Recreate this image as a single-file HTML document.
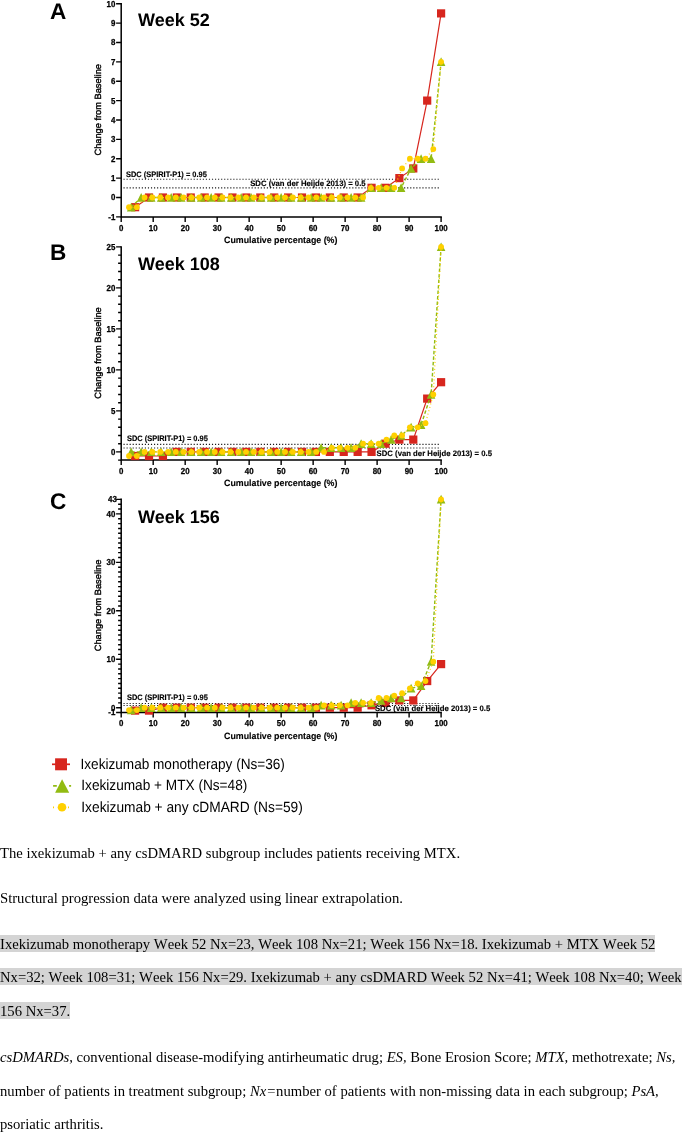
<!DOCTYPE html>
<html><head><meta charset="utf-8"><title>Figure</title><style>
html,body{margin:0;padding:0;background:#fff;width:685px;height:1132px;overflow:hidden}
body{width:685px;height:1132px;position:relative;overflow:hidden;font-family:"Liberation Serif",serif;color:#000}
svg{position:absolute;left:0;top:0}
.txt,.cap{filter:grayscale(1)}
.cap{position:absolute;left:0;top:830px;width:685px;height:302px;overflow:hidden}
.l{position:absolute;left:0;white-space:nowrap;font-size:14.67px;line-height:17px;height:17px;font-kerning:none;font-variant-ligatures:none}
.h{background:#d4d4d4;padding-top:1px}
i{font-style:italic}
</style></head><body>
<svg width="685" height="830" viewBox="0 0 685 830" class="gfx">
<path d="M121.2 2.95V216.88H441.85" fill="none" stroke="#000" stroke-width="1.5"/>
<path d="M121.2 216.88h-5.1M121.2 197.5h-5.1M121.2 178.12h-5.1M121.2 158.74h-5.1M121.2 139.36h-5.1M121.2 119.98h-5.1M121.2 100.6h-5.1M121.2 81.22h-5.1M121.2 61.84h-5.1M121.2 42.46h-5.1M121.2 23.08h-5.1M121.2 3.7h-5.1M121.2 216.88v5M153.19 216.88v5M185.18 216.88v5M217.17 216.88v5M249.16 216.88v5M281.15 216.88v5M313.14 216.88v5M345.13 216.88v5M377.12 216.88v5M409.11 216.88v5M441.1 216.88v5" fill="none" stroke="#000" stroke-width="1.4"/>
<line x1="123.5" x2="439" y1="179.3" y2="179.3" stroke="#1a1a1a" stroke-width="1.1" stroke-dasharray="1.15 1.9"/>
<line x1="123.5" x2="439" y1="187.9" y2="187.9" stroke="#1a1a1a" stroke-width="1.1" stroke-dasharray="1.15 1.9"/>
<polyline points="135.11,207.19 149.02,197.5 162.93,197.5 176.83,197.5 190.74,197.5 204.65,197.5 218.56,197.5 232.47,197.5 246.38,197.5 260.29,197.5 274.2,197.5 288.1,197.5 302.01,197.5 315.92,197.5 329.83,197.5 343.74,197.5 357.65,197.5 371.56,187.81 385.47,187.81 399.37,178.12 413.28,168.43 427.19,100.6 441.1,13.39" fill="none" stroke="#d7261e" stroke-width="1.2"/>
<g fill="#d7261e"><rect x="131.01" y="203.09" width="8.2" height="8.2"/><rect x="144.92" y="193.4" width="8.2" height="8.2"/><rect x="158.83" y="193.4" width="8.2" height="8.2"/><rect x="172.73" y="193.4" width="8.2" height="8.2"/><rect x="186.64" y="193.4" width="8.2" height="8.2"/><rect x="200.55" y="193.4" width="8.2" height="8.2"/><rect x="214.46" y="193.4" width="8.2" height="8.2"/><rect x="228.37" y="193.4" width="8.2" height="8.2"/><rect x="242.28" y="193.4" width="8.2" height="8.2"/><rect x="256.19" y="193.4" width="8.2" height="8.2"/><rect x="270.1" y="193.4" width="8.2" height="8.2"/><rect x="284" y="193.4" width="8.2" height="8.2"/><rect x="297.91" y="193.4" width="8.2" height="8.2"/><rect x="311.82" y="193.4" width="8.2" height="8.2"/><rect x="325.73" y="193.4" width="8.2" height="8.2"/><rect x="339.64" y="193.4" width="8.2" height="8.2"/><rect x="353.55" y="193.4" width="8.2" height="8.2"/><rect x="367.46" y="183.71" width="8.2" height="8.2"/><rect x="381.37" y="183.71" width="8.2" height="8.2"/><rect x="395.27" y="174.02" width="8.2" height="8.2"/><rect x="409.18" y="164.33" width="8.2" height="8.2"/><rect x="423.09" y="96.5" width="8.2" height="8.2"/><rect x="437" y="9.29" width="8.2" height="8.2"/></g>
<polyline points="131.2,207.19 141.19,197.5 151.19,197.5 161.19,197.5 171.18,197.5 181.18,197.5 191.18,197.5 201.18,197.5 211.17,197.5 221.17,197.5 231.17,197.5 241.16,197.5 251.16,197.5 261.16,197.5 271.15,197.5 281.15,197.5 291.15,197.5 301.14,197.5 311.14,197.5 321.14,197.5 331.13,197.5 341.13,197.5 351.13,197.5 361.13,197.5 371.12,187.81 381.12,187.81 391.12,187.81 401.11,187.81 411.11,168.43 421.11,158.74 431.1,158.74 441.1,61.84" fill="none" stroke="#92bb12" stroke-width="1.4" stroke-dasharray="3.5 2"/>
<g fill="#92bb12"><path d="M131.2 202.69L135.5 211.39H126.9Z"/><path d="M141.19 193L145.49 201.7H136.89Z"/><path d="M151.19 193L155.49 201.7H146.89Z"/><path d="M161.19 193L165.49 201.7H156.89Z"/><path d="M171.18 193L175.48 201.7H166.88Z"/><path d="M181.18 193L185.48 201.7H176.88Z"/><path d="M191.18 193L195.48 201.7H186.88Z"/><path d="M201.18 193L205.48 201.7H196.88Z"/><path d="M211.17 193L215.47 201.7H206.87Z"/><path d="M221.17 193L225.47 201.7H216.87Z"/><path d="M231.17 193L235.47 201.7H226.87Z"/><path d="M241.16 193L245.46 201.7H236.86Z"/><path d="M251.16 193L255.46 201.7H246.86Z"/><path d="M261.16 193L265.46 201.7H256.86Z"/><path d="M271.15 193L275.45 201.7H266.85Z"/><path d="M281.15 193L285.45 201.7H276.85Z"/><path d="M291.15 193L295.45 201.7H286.85Z"/><path d="M301.14 193L305.44 201.7H296.84Z"/><path d="M311.14 193L315.44 201.7H306.84Z"/><path d="M321.14 193L325.44 201.7H316.84Z"/><path d="M331.13 193L335.43 201.7H326.83Z"/><path d="M341.13 193L345.43 201.7H336.83Z"/><path d="M351.13 193L355.43 201.7H346.83Z"/><path d="M361.13 193L365.43 201.7H356.83Z"/><path d="M371.12 183.31L375.42 192.01H366.82Z"/><path d="M381.12 183.31L385.42 192.01H376.82Z"/><path d="M391.12 183.31L395.42 192.01H386.82Z"/><path d="M401.11 183.31L405.41 192.01H396.81Z"/><path d="M411.11 163.93L415.41 172.63H406.81Z"/><path d="M421.11 154.24L425.41 162.94H416.81Z"/><path d="M431.1 154.24L435.4 162.94H426.8Z"/><path d="M441.1 57.34L445.4 66.04H436.8Z"/></g>
<polyline points="129,207.19 136.8,207.19 144.61,197.5 152.41,197.5 160.21,197.5 168.01,197.5 175.82,197.5 183.62,197.5 191.42,197.5 199.22,197.5 207.03,197.5 214.83,197.5 222.63,197.5 230.43,197.5 238.24,197.5 246.04,197.5 253.84,197.5 261.64,197.5 269.45,197.5 277.25,197.5 285.05,197.5 292.85,197.5 300.66,197.5 308.46,197.5 316.26,197.5 324.06,197.5 331.87,197.5 339.67,197.5 347.47,197.5 355.27,197.5 363.08,197.5 370.88,187.81 378.68,187.81 386.48,187.81 394.29,187.81 402.09,168.43 409.89,158.74 417.69,158.74 425.5,158.74 433.3,149.05 441.1,61.84" fill="none" stroke="#ffd000" stroke-width="1.2" stroke-dasharray="1 2.5"/>
<g fill="#ffd000"><circle cx="129" cy="207.19" r="2.9"/><circle cx="136.8" cy="207.19" r="2.9"/><circle cx="144.61" cy="197.5" r="2.9"/><circle cx="152.41" cy="197.5" r="2.9"/><circle cx="160.21" cy="197.5" r="2.9"/><circle cx="168.01" cy="197.5" r="2.9"/><circle cx="175.82" cy="197.5" r="2.9"/><circle cx="183.62" cy="197.5" r="2.9"/><circle cx="191.42" cy="197.5" r="2.9"/><circle cx="199.22" cy="197.5" r="2.9"/><circle cx="207.03" cy="197.5" r="2.9"/><circle cx="214.83" cy="197.5" r="2.9"/><circle cx="222.63" cy="197.5" r="2.9"/><circle cx="230.43" cy="197.5" r="2.9"/><circle cx="238.24" cy="197.5" r="2.9"/><circle cx="246.04" cy="197.5" r="2.9"/><circle cx="253.84" cy="197.5" r="2.9"/><circle cx="261.64" cy="197.5" r="2.9"/><circle cx="269.45" cy="197.5" r="2.9"/><circle cx="277.25" cy="197.5" r="2.9"/><circle cx="285.05" cy="197.5" r="2.9"/><circle cx="292.85" cy="197.5" r="2.9"/><circle cx="300.66" cy="197.5" r="2.9"/><circle cx="308.46" cy="197.5" r="2.9"/><circle cx="316.26" cy="197.5" r="2.9"/><circle cx="324.06" cy="197.5" r="2.9"/><circle cx="331.87" cy="197.5" r="2.9"/><circle cx="339.67" cy="197.5" r="2.9"/><circle cx="347.47" cy="197.5" r="2.9"/><circle cx="355.27" cy="197.5" r="2.9"/><circle cx="363.08" cy="197.5" r="2.9"/><circle cx="370.88" cy="187.81" r="2.9"/><circle cx="378.68" cy="187.81" r="2.9"/><circle cx="386.48" cy="187.81" r="2.9"/><circle cx="394.29" cy="187.81" r="2.9"/><circle cx="402.09" cy="168.43" r="2.9"/><circle cx="409.89" cy="158.74" r="2.9"/><circle cx="417.69" cy="158.74" r="2.9"/><circle cx="425.5" cy="158.74" r="2.9"/><circle cx="433.3" cy="149.05" r="2.9"/><circle cx="441.1" cy="61.84" r="2.9"/></g>
<path d="M121.2 246.15V460.1H441.85" fill="none" stroke="#000" stroke-width="1.5"/>
<path d="M121.2 460.1h-3.1M121.2 443.7h-3.1M121.2 435.5h-3.1M121.2 427.3h-3.1M121.2 419.1h-3.1M121.2 402.7h-3.1M121.2 394.5h-3.1M121.2 386.3h-3.1M121.2 378.1h-3.1M121.2 361.7h-3.1M121.2 353.5h-3.1M121.2 345.3h-3.1M121.2 337.1h-3.1M121.2 320.7h-3.1M121.2 312.5h-3.1M121.2 304.3h-3.1M121.2 296.1h-3.1M121.2 279.7h-3.1M121.2 271.5h-3.1M121.2 263.3h-3.1M121.2 255.1h-3.1M121.2 451.9h-5.1M121.2 410.9h-5.1M121.2 369.9h-5.1M121.2 328.9h-5.1M121.2 287.9h-5.1M121.2 246.9h-5.1M121.2 460.1v5M153.19 460.1v5M185.18 460.1v5M217.17 460.1v5M249.16 460.1v5M281.15 460.1v5M313.14 460.1v5M345.13 460.1v5M377.12 460.1v5M409.11 460.1v5M441.1 460.1v5" fill="none" stroke="#000" stroke-width="1.4"/>
<line x1="123.5" x2="439" y1="444.4" y2="444.4" stroke="#1a1a1a" stroke-width="1.1" stroke-dasharray="1.15 1.9"/>
<line x1="123.5" x2="439" y1="448" y2="448" stroke="#1a1a1a" stroke-width="1.1" stroke-dasharray="1.15 1.9"/>
<polyline points="135.11,456 149.02,456 162.93,456 176.83,451.9 190.74,451.9 204.65,451.9 218.56,451.9 232.47,451.9 246.38,451.9 260.29,451.9 274.2,451.9 288.1,451.9 302.01,451.9 315.92,451.9 329.83,451.9 343.74,451.9 357.65,451.9 371.56,451.9 385.47,443.7 399.37,439.6 413.28,439.6 427.19,398.6 441.1,382.2" fill="none" stroke="#d7261e" stroke-width="1.2"/>
<g fill="#d7261e"><rect x="131.01" y="451.9" width="8.2" height="8.2"/><rect x="144.92" y="451.9" width="8.2" height="8.2"/><rect x="158.83" y="451.9" width="8.2" height="8.2"/><rect x="172.73" y="447.8" width="8.2" height="8.2"/><rect x="186.64" y="447.8" width="8.2" height="8.2"/><rect x="200.55" y="447.8" width="8.2" height="8.2"/><rect x="214.46" y="447.8" width="8.2" height="8.2"/><rect x="228.37" y="447.8" width="8.2" height="8.2"/><rect x="242.28" y="447.8" width="8.2" height="8.2"/><rect x="256.19" y="447.8" width="8.2" height="8.2"/><rect x="270.1" y="447.8" width="8.2" height="8.2"/><rect x="284" y="447.8" width="8.2" height="8.2"/><rect x="297.91" y="447.8" width="8.2" height="8.2"/><rect x="311.82" y="447.8" width="8.2" height="8.2"/><rect x="325.73" y="447.8" width="8.2" height="8.2"/><rect x="339.64" y="447.8" width="8.2" height="8.2"/><rect x="353.55" y="447.8" width="8.2" height="8.2"/><rect x="367.46" y="447.8" width="8.2" height="8.2"/><rect x="381.37" y="439.6" width="8.2" height="8.2"/><rect x="395.27" y="435.5" width="8.2" height="8.2"/><rect x="409.18" y="435.5" width="8.2" height="8.2"/><rect x="423.09" y="394.5" width="8.2" height="8.2"/><rect x="437" y="378.1" width="8.2" height="8.2"/></g>
<polyline points="131.2,451.9 141.19,451.9 151.19,451.9 161.19,451.9 171.18,451.9 181.18,451.9 191.18,451.9 201.18,451.9 211.17,451.9 221.17,451.9 231.17,451.9 241.16,451.9 251.16,451.9 261.16,451.9 271.15,451.9 281.15,451.9 291.15,451.9 301.14,451.9 311.14,451.9 321.14,447.8 331.13,447.8 341.13,447.8 351.13,447.8 361.13,443.7 371.12,443.7 381.12,443.7 391.12,439.6 401.11,435.5 411.11,427.3 421.11,424.84 431.1,394.5 441.1,246.9" fill="none" stroke="#92bb12" stroke-width="1.4" stroke-dasharray="3.5 2"/>
<g fill="#92bb12"><path d="M131.2 447.4L135.5 456.1H126.9Z"/><path d="M141.19 447.4L145.49 456.1H136.89Z"/><path d="M151.19 447.4L155.49 456.1H146.89Z"/><path d="M161.19 447.4L165.49 456.1H156.89Z"/><path d="M171.18 447.4L175.48 456.1H166.88Z"/><path d="M181.18 447.4L185.48 456.1H176.88Z"/><path d="M191.18 447.4L195.48 456.1H186.88Z"/><path d="M201.18 447.4L205.48 456.1H196.88Z"/><path d="M211.17 447.4L215.47 456.1H206.87Z"/><path d="M221.17 447.4L225.47 456.1H216.87Z"/><path d="M231.17 447.4L235.47 456.1H226.87Z"/><path d="M241.16 447.4L245.46 456.1H236.86Z"/><path d="M251.16 447.4L255.46 456.1H246.86Z"/><path d="M261.16 447.4L265.46 456.1H256.86Z"/><path d="M271.15 447.4L275.45 456.1H266.85Z"/><path d="M281.15 447.4L285.45 456.1H276.85Z"/><path d="M291.15 447.4L295.45 456.1H286.85Z"/><path d="M301.14 447.4L305.44 456.1H296.84Z"/><path d="M311.14 447.4L315.44 456.1H306.84Z"/><path d="M321.14 443.3L325.44 452H316.84Z"/><path d="M331.13 443.3L335.43 452H326.83Z"/><path d="M341.13 443.3L345.43 452H336.83Z"/><path d="M351.13 443.3L355.43 452H346.83Z"/><path d="M361.13 439.2L365.43 447.9H356.83Z"/><path d="M371.12 439.2L375.42 447.9H366.82Z"/><path d="M381.12 439.2L385.42 447.9H376.82Z"/><path d="M391.12 435.1L395.42 443.8H386.82Z"/><path d="M401.11 431L405.41 439.7H396.81Z"/><path d="M411.11 422.8L415.41 431.5H406.81Z"/><path d="M421.11 420.34L425.41 429.04H416.81Z"/><path d="M431.1 390L435.4 398.7H426.8Z"/><path d="M441.1 242.4L445.4 251.1H436.8Z"/></g>
<polyline points="129,456 136.8,456 144.61,451.9 152.41,451.9 160.21,451.9 168.01,451.9 175.82,451.9 183.62,451.9 191.42,451.9 199.22,451.9 207.03,451.9 214.83,451.9 222.63,451.9 230.43,451.9 238.24,451.9 246.04,451.9 253.84,451.9 261.64,451.9 269.45,451.9 277.25,451.9 285.05,451.9 292.85,451.9 300.66,451.9 308.46,451.9 316.26,451.9 324.06,451.9 331.87,447.8 339.67,447.8 347.47,447.8 355.27,447.8 363.08,443.7 370.88,443.7 378.68,443.7 386.48,439.6 394.29,435.5 402.09,435.5 409.89,427.3 417.69,427.3 425.5,423.2 433.3,394.5 441.1,246.9" fill="none" stroke="#ffd000" stroke-width="1.2" stroke-dasharray="1 2.5"/>
<g fill="#ffd000"><circle cx="129" cy="456" r="2.9"/><circle cx="136.8" cy="456" r="2.9"/><circle cx="144.61" cy="451.9" r="2.9"/><circle cx="152.41" cy="451.9" r="2.9"/><circle cx="160.21" cy="451.9" r="2.9"/><circle cx="168.01" cy="451.9" r="2.9"/><circle cx="175.82" cy="451.9" r="2.9"/><circle cx="183.62" cy="451.9" r="2.9"/><circle cx="191.42" cy="451.9" r="2.9"/><circle cx="199.22" cy="451.9" r="2.9"/><circle cx="207.03" cy="451.9" r="2.9"/><circle cx="214.83" cy="451.9" r="2.9"/><circle cx="222.63" cy="451.9" r="2.9"/><circle cx="230.43" cy="451.9" r="2.9"/><circle cx="238.24" cy="451.9" r="2.9"/><circle cx="246.04" cy="451.9" r="2.9"/><circle cx="253.84" cy="451.9" r="2.9"/><circle cx="261.64" cy="451.9" r="2.9"/><circle cx="269.45" cy="451.9" r="2.9"/><circle cx="277.25" cy="451.9" r="2.9"/><circle cx="285.05" cy="451.9" r="2.9"/><circle cx="292.85" cy="451.9" r="2.9"/><circle cx="300.66" cy="451.9" r="2.9"/><circle cx="308.46" cy="451.9" r="2.9"/><circle cx="316.26" cy="451.9" r="2.9"/><circle cx="324.06" cy="451.9" r="2.9"/><circle cx="331.87" cy="447.8" r="2.9"/><circle cx="339.67" cy="447.8" r="2.9"/><circle cx="347.47" cy="447.8" r="2.9"/><circle cx="355.27" cy="447.8" r="2.9"/><circle cx="363.08" cy="443.7" r="2.9"/><circle cx="370.88" cy="443.7" r="2.9"/><circle cx="378.68" cy="443.7" r="2.9"/><circle cx="386.48" cy="439.6" r="2.9"/><circle cx="394.29" cy="435.5" r="2.9"/><circle cx="402.09" cy="435.5" r="2.9"/><circle cx="409.89" cy="427.3" r="2.9"/><circle cx="417.69" cy="427.3" r="2.9"/><circle cx="425.5" cy="423.2" r="2.9"/><circle cx="433.3" cy="394.5" r="2.9"/><circle cx="441.1" cy="246.9" r="2.9"/></g>
<path d="M121.2 498.62V712.55H441.85" fill="none" stroke="#000" stroke-width="1.5"/>
<path d="M121.2 702.86h-3.1M121.2 698.01h-3.1M121.2 693.17h-3.1M121.2 688.32h-3.1M121.2 683.48h-3.1M121.2 678.63h-3.1M121.2 673.79h-3.1M121.2 668.94h-3.1M121.2 664.1h-3.1M121.2 654.41h-3.1M121.2 649.56h-3.1M121.2 644.72h-3.1M121.2 639.87h-3.1M121.2 635.03h-3.1M121.2 630.18h-3.1M121.2 625.34h-3.1M121.2 620.49h-3.1M121.2 615.65h-3.1M121.2 605.96h-3.1M121.2 601.11h-3.1M121.2 596.27h-3.1M121.2 591.42h-3.1M121.2 586.58h-3.1M121.2 581.73h-3.1M121.2 576.88h-3.1M121.2 572.04h-3.1M121.2 567.2h-3.1M121.2 557.51h-3.1M121.2 552.66h-3.1M121.2 547.82h-3.1M121.2 542.97h-3.1M121.2 538.12h-3.1M121.2 533.28h-3.1M121.2 528.44h-3.1M121.2 523.59h-3.1M121.2 518.75h-3.1M121.2 509.06h-3.1M121.2 504.21h-3.1M121.2 712.55h-5.1M121.2 707.7h-5.1M121.2 659.25h-5.1M121.2 610.8h-5.1M121.2 562.35h-5.1M121.2 513.9h-5.1M121.2 499.37h-5.1M121.2 712.55v5M153.19 712.55v5M185.18 712.55v5M217.17 712.55v5M249.16 712.55v5M281.15 712.55v5M313.14 712.55v5M345.13 712.55v5M377.12 712.55v5M409.11 712.55v5M441.1 712.55v5" fill="none" stroke="#000" stroke-width="1.4"/>
<line x1="123.5" x2="439" y1="703.5" y2="703.5" stroke="#1a1a1a" stroke-width="1.1" stroke-dasharray="1.15 1.9"/>
<line x1="123.5" x2="439" y1="705.5" y2="705.5" stroke="#1a1a1a" stroke-width="1.1" stroke-dasharray="1.15 1.9"/>
<polyline points="135.11,710.61 149.02,710.61 162.93,707.7 176.83,707.7 190.74,707.7 204.65,707.7 218.56,707.7 232.47,707.7 246.38,707.7 260.29,707.7 274.2,707.7 288.1,707.7 302.01,707.7 315.92,707.7 329.83,707.7 343.74,707.7 357.65,707.7 371.56,705.28 385.47,702.86 399.37,700.43 413.28,700.43 427.19,681.05 441.1,664.1" fill="none" stroke="#d7261e" stroke-width="1.2"/>
<g fill="#d7261e"><rect x="131.01" y="706.51" width="8.2" height="8.2"/><rect x="144.92" y="706.51" width="8.2" height="8.2"/><rect x="158.83" y="703.6" width="8.2" height="8.2"/><rect x="172.73" y="703.6" width="8.2" height="8.2"/><rect x="186.64" y="703.6" width="8.2" height="8.2"/><rect x="200.55" y="703.6" width="8.2" height="8.2"/><rect x="214.46" y="703.6" width="8.2" height="8.2"/><rect x="228.37" y="703.6" width="8.2" height="8.2"/><rect x="242.28" y="703.6" width="8.2" height="8.2"/><rect x="256.19" y="703.6" width="8.2" height="8.2"/><rect x="270.1" y="703.6" width="8.2" height="8.2"/><rect x="284" y="703.6" width="8.2" height="8.2"/><rect x="297.91" y="703.6" width="8.2" height="8.2"/><rect x="311.82" y="703.6" width="8.2" height="8.2"/><rect x="325.73" y="703.6" width="8.2" height="8.2"/><rect x="339.64" y="703.6" width="8.2" height="8.2"/><rect x="353.55" y="703.6" width="8.2" height="8.2"/><rect x="367.46" y="701.18" width="8.2" height="8.2"/><rect x="381.37" y="698.75" width="8.2" height="8.2"/><rect x="395.27" y="696.33" width="8.2" height="8.2"/><rect x="409.18" y="696.33" width="8.2" height="8.2"/><rect x="423.09" y="676.95" width="8.2" height="8.2"/><rect x="437" y="660" width="8.2" height="8.2"/></g>
<polyline points="131.2,710.12 141.19,707.7 151.19,707.7 161.19,707.7 171.18,707.7 181.18,707.7 191.18,707.7 201.18,707.7 211.17,707.7 221.17,707.7 231.17,707.7 241.16,707.7 251.16,707.7 261.16,707.7 271.15,707.7 281.15,707.7 291.15,707.7 301.14,707.7 311.14,707.7 321.14,705.28 331.13,705.28 341.13,705.28 351.13,702.86 361.13,702.86 371.12,702.86 381.12,700.43 391.12,698.01 401.11,698.01 411.11,688.32 421.11,685.9 431.1,661.67 441.1,499.37" fill="none" stroke="#92bb12" stroke-width="1.4" stroke-dasharray="3.5 2"/>
<g fill="#92bb12"><path d="M131.2 705.62L135.5 714.32H126.9Z"/><path d="M141.19 703.2L145.49 711.9H136.89Z"/><path d="M151.19 703.2L155.49 711.9H146.89Z"/><path d="M161.19 703.2L165.49 711.9H156.89Z"/><path d="M171.18 703.2L175.48 711.9H166.88Z"/><path d="M181.18 703.2L185.48 711.9H176.88Z"/><path d="M191.18 703.2L195.48 711.9H186.88Z"/><path d="M201.18 703.2L205.48 711.9H196.88Z"/><path d="M211.17 703.2L215.47 711.9H206.87Z"/><path d="M221.17 703.2L225.47 711.9H216.87Z"/><path d="M231.17 703.2L235.47 711.9H226.87Z"/><path d="M241.16 703.2L245.46 711.9H236.86Z"/><path d="M251.16 703.2L255.46 711.9H246.86Z"/><path d="M261.16 703.2L265.46 711.9H256.86Z"/><path d="M271.15 703.2L275.45 711.9H266.85Z"/><path d="M281.15 703.2L285.45 711.9H276.85Z"/><path d="M291.15 703.2L295.45 711.9H286.85Z"/><path d="M301.14 703.2L305.44 711.9H296.84Z"/><path d="M311.14 703.2L315.44 711.9H306.84Z"/><path d="M321.14 700.78L325.44 709.48H316.84Z"/><path d="M331.13 700.78L335.43 709.48H326.83Z"/><path d="M341.13 700.78L345.43 709.48H336.83Z"/><path d="M351.13 698.36L355.43 707.06H346.83Z"/><path d="M361.13 698.36L365.43 707.06H356.83Z"/><path d="M371.12 698.36L375.42 707.06H366.82Z"/><path d="M381.12 695.93L385.42 704.63H376.82Z"/><path d="M391.12 693.51L395.42 702.21H386.82Z"/><path d="M401.11 693.51L405.41 702.21H396.81Z"/><path d="M411.11 683.82L415.41 692.52H406.81Z"/><path d="M421.11 681.4L425.41 690.1H416.81Z"/><path d="M431.1 657.17L435.4 665.87H426.8Z"/><path d="M441.1 494.87L445.4 503.57H436.8Z"/></g>
<polyline points="129,710.12 136.8,710.12 144.61,707.7 152.41,707.7 160.21,707.7 168.01,707.7 175.82,707.7 183.62,707.7 191.42,707.7 199.22,707.7 207.03,707.7 214.83,707.7 222.63,707.7 230.43,707.7 238.24,707.7 246.04,707.7 253.84,707.7 261.64,707.7 269.45,707.7 277.25,707.7 285.05,707.7 292.85,707.7 300.66,707.7 308.46,707.7 316.26,707.7 324.06,705.28 331.87,705.28 339.67,705.28 347.47,705.28 355.27,702.86 363.08,702.86 370.88,702.86 378.68,698.01 386.48,698.01 394.29,695.59 402.09,693.17 409.89,688.32 417.69,683.48 425.5,681.05 433.3,661.67 441.1,499.37" fill="none" stroke="#ffd000" stroke-width="1.2" stroke-dasharray="1 2.5"/>
<g fill="#ffd000"><circle cx="129" cy="710.12" r="2.9"/><circle cx="136.8" cy="710.12" r="2.9"/><circle cx="144.61" cy="707.7" r="2.9"/><circle cx="152.41" cy="707.7" r="2.9"/><circle cx="160.21" cy="707.7" r="2.9"/><circle cx="168.01" cy="707.7" r="2.9"/><circle cx="175.82" cy="707.7" r="2.9"/><circle cx="183.62" cy="707.7" r="2.9"/><circle cx="191.42" cy="707.7" r="2.9"/><circle cx="199.22" cy="707.7" r="2.9"/><circle cx="207.03" cy="707.7" r="2.9"/><circle cx="214.83" cy="707.7" r="2.9"/><circle cx="222.63" cy="707.7" r="2.9"/><circle cx="230.43" cy="707.7" r="2.9"/><circle cx="238.24" cy="707.7" r="2.9"/><circle cx="246.04" cy="707.7" r="2.9"/><circle cx="253.84" cy="707.7" r="2.9"/><circle cx="261.64" cy="707.7" r="2.9"/><circle cx="269.45" cy="707.7" r="2.9"/><circle cx="277.25" cy="707.7" r="2.9"/><circle cx="285.05" cy="707.7" r="2.9"/><circle cx="292.85" cy="707.7" r="2.9"/><circle cx="300.66" cy="707.7" r="2.9"/><circle cx="308.46" cy="707.7" r="2.9"/><circle cx="316.26" cy="707.7" r="2.9"/><circle cx="324.06" cy="705.28" r="2.9"/><circle cx="331.87" cy="705.28" r="2.9"/><circle cx="339.67" cy="705.28" r="2.9"/><circle cx="347.47" cy="705.28" r="2.9"/><circle cx="355.27" cy="702.86" r="2.9"/><circle cx="363.08" cy="702.86" r="2.9"/><circle cx="370.88" cy="702.86" r="2.9"/><circle cx="378.68" cy="698.01" r="2.9"/><circle cx="386.48" cy="698.01" r="2.9"/><circle cx="394.29" cy="695.59" r="2.9"/><circle cx="402.09" cy="693.17" r="2.9"/><circle cx="409.89" cy="688.32" r="2.9"/><circle cx="417.69" cy="683.48" r="2.9"/><circle cx="425.5" cy="681.05" r="2.9"/><circle cx="433.3" cy="661.67" r="2.9"/><circle cx="441.1" cy="499.37" r="2.9"/></g>
<line x1="52" x2="70" y1="764.3" y2="764.3" stroke="#d7261e" stroke-width="1.7"/>
<rect x="55.1" y="758.3" width="11.9" height="12" fill="#d7261e"/>
<path d="M53.1 785.9h3.7M69.1 785.9h2" stroke="#92bb12" stroke-width="1.8" fill="none"/>
<path d="M62.1 779.3L69.2 792.7H55.1Z" fill="#92bb12"/>
<path d="M53 807.4h1M68 807.4h1" stroke="#ffd000" stroke-width="1.6" fill="none"/>
<circle cx="62" cy="807.3" r="4.3" fill="#ffd000"/>
</svg>
<svg width="685" height="830" viewBox="0 0 685 830" class="txt" text-rendering="geometricPrecision" font-family="'Liberation Sans', sans-serif" fill="#000">
 <text x="50.1" y="18.5" font-size="22.6" font-weight="bold">A</text>
<text x="138" y="25.9" font-size="18" font-weight="bold" textLength="71.7" lengthAdjust="spacingAndGlyphs">Week 52</text>
<text x="126.0" y="177.0" font-size="7.9" font-weight="bold" stroke="#000" stroke-width="0.15" textLength="80.8" lengthAdjust="spacingAndGlyphs">SDC (SPIRIT-P1) = 0.95</text>
<text x="250.2" y="186.3" font-size="7.9" font-weight="bold" stroke="#000" stroke-width="0.15" textLength="115.4" lengthAdjust="spacingAndGlyphs">SDC (van der Heijde 2013) = 0.5</text>
 <g font-size="7.9" font-weight="bold" stroke="#000" stroke-width="0.25" transform="scale(1 1.1)"><text x="115.3" y="200.02" text-anchor="end">-1</text><text x="115.3" y="181.84" text-anchor="end">0</text><text x="115.3" y="164.56" text-anchor="end">1</text><text x="115.3" y="147.29" text-anchor="end">2</text><text x="115.3" y="129.11" text-anchor="end">3</text><text x="115.3" y="111.84" text-anchor="end">4</text><text x="115.3" y="94.56" text-anchor="end">5</text><text x="115.3" y="76.38" text-anchor="end">6</text><text x="115.3" y="59.11" text-anchor="end">7</text><text x="115.3" y="40.93" text-anchor="end">8</text><text x="115.3" y="23.65" text-anchor="end">9</text><text x="115.3" y="6.38" text-anchor="end">10</text><text x="121.2" y="210.02" text-anchor="middle">0</text><text x="153.19" y="210.02" text-anchor="middle">10</text><text x="185.18" y="210.02" text-anchor="middle">20</text><text x="217.17" y="210.02" text-anchor="middle">30</text><text x="249.16" y="210.02" text-anchor="middle">40</text><text x="281.15" y="210.02" text-anchor="middle">50</text><text x="313.14" y="210.02" text-anchor="middle">60</text><text x="345.13" y="210.02" text-anchor="middle">70</text><text x="377.12" y="210.02" text-anchor="middle">80</text><text x="409.11" y="210.02" text-anchor="middle">90</text><text x="441.1" y="210.02" text-anchor="middle">100</text></g>
<text x="280.75" y="243.18" font-size="9.1" font-weight="bold" stroke="#000" stroke-width="0.12" text-anchor="middle" textLength="113.3" lengthAdjust="spacingAndGlyphs">Cumulative percentage (%)</text>
<text transform="translate(101 109.79) rotate(-90)" font-size="9" text-anchor="middle" textLength="91.5" lengthAdjust="spacingAndGlyphs" stroke="#000" stroke-width="0.4">Change from Baseline</text>
 <text x="50.1" y="259.8" font-size="22.6" font-weight="bold">B</text>
<text x="138" y="269.6" font-size="18" font-weight="bold" textLength="81.7" lengthAdjust="spacingAndGlyphs">Week 108</text>
<text x="127.0" y="440.5" font-size="7.9" font-weight="bold" stroke="#000" stroke-width="0.15" textLength="80.8" lengthAdjust="spacingAndGlyphs">SDC (SPIRIT-P1) = 0.95</text>
<text x="376.6" y="455.75" font-size="7.9" font-weight="bold" stroke="#000" stroke-width="0.15" textLength="115.4" lengthAdjust="spacingAndGlyphs">SDC (van der Heijde 2013) = 0.5</text>
 <g font-size="7.9" font-weight="bold" stroke="#000" stroke-width="0.25" transform="scale(1 1.1)"><text x="115.3" y="413.65" text-anchor="end">0</text><text x="115.3" y="376.38" text-anchor="end">5</text><text x="115.3" y="339.11" text-anchor="end">10</text><text x="115.3" y="301.84" text-anchor="end">15</text><text x="115.3" y="264.56" text-anchor="end">20</text><text x="115.3" y="227.29" text-anchor="end">25</text><text x="121.2" y="430.93" text-anchor="middle">0</text><text x="153.19" y="430.93" text-anchor="middle">10</text><text x="185.18" y="430.93" text-anchor="middle">20</text><text x="217.17" y="430.93" text-anchor="middle">30</text><text x="249.16" y="430.93" text-anchor="middle">40</text><text x="281.15" y="430.93" text-anchor="middle">50</text><text x="313.14" y="430.93" text-anchor="middle">60</text><text x="345.13" y="430.93" text-anchor="middle">70</text><text x="377.12" y="430.93" text-anchor="middle">80</text><text x="409.11" y="430.93" text-anchor="middle">90</text><text x="441.1" y="430.93" text-anchor="middle">100</text></g>
<text x="280.75" y="486.4" font-size="9.1" font-weight="bold" stroke="#000" stroke-width="0.12" text-anchor="middle" textLength="113.3" lengthAdjust="spacingAndGlyphs">Cumulative percentage (%)</text>
<text transform="translate(101 353) rotate(-90)" font-size="9" text-anchor="middle" textLength="91.5" lengthAdjust="spacingAndGlyphs" stroke="#000" stroke-width="0.4">Change from Baseline</text>
 <text x="50.1" y="509.2" font-size="22.6" font-weight="bold">C</text>
<text x="138" y="523" font-size="18" font-weight="bold" textLength="81.7" lengthAdjust="spacingAndGlyphs">Week 156</text>
<text x="127.0" y="699.6" font-size="7.9" font-weight="bold" stroke="#000" stroke-width="0.15" textLength="80.8" lengthAdjust="spacingAndGlyphs">SDC (SPIRIT-P1) = 0.95</text>
<text x="374.9" y="711.1" font-size="7.9" font-weight="bold" stroke="#000" stroke-width="0.15" textLength="115.4" lengthAdjust="spacingAndGlyphs">SDC (van der Heijde 2013) = 0.5</text>
 <g font-size="7.9" font-weight="bold" stroke="#000" stroke-width="0.25" transform="scale(1 1.1)"><text x="115.3" y="650.02" text-anchor="end">-1</text><text x="115.3" y="646.38" text-anchor="end">0</text><text x="115.3" y="601.84" text-anchor="end">10</text><text x="115.3" y="558.2" text-anchor="end">20</text><text x="115.3" y="513.65" text-anchor="end">30</text><text x="115.3" y="470.02" text-anchor="end">40</text><text x="116.8" y="456.38" text-anchor="end">43</text><text x="121.2" y="660.02" text-anchor="middle">0</text><text x="153.19" y="660.02" text-anchor="middle">10</text><text x="185.18" y="660.02" text-anchor="middle">20</text><text x="217.17" y="660.02" text-anchor="middle">30</text><text x="249.16" y="660.02" text-anchor="middle">40</text><text x="281.15" y="660.02" text-anchor="middle">50</text><text x="313.14" y="660.02" text-anchor="middle">60</text><text x="345.13" y="660.02" text-anchor="middle">70</text><text x="377.12" y="660.02" text-anchor="middle">80</text><text x="409.11" y="660.02" text-anchor="middle">90</text><text x="441.1" y="660.02" text-anchor="middle">100</text></g>
<text x="280.75" y="738.85" font-size="9.1" font-weight="bold" stroke="#000" stroke-width="0.12" text-anchor="middle" textLength="113.3" lengthAdjust="spacingAndGlyphs">Cumulative percentage (%)</text>
<text transform="translate(101 605.46) rotate(-90)" font-size="9" text-anchor="middle" textLength="91.5" lengthAdjust="spacingAndGlyphs" stroke="#000" stroke-width="0.4">Change from Baseline</text>
<g font-size="14.8">
<text x="80.5" y="768.8" textLength="204.4" lengthAdjust="spacingAndGlyphs">Ixekizumab monotherapy (Ns=36)</text>
<text x="81.3" y="790.3" textLength="166" lengthAdjust="spacingAndGlyphs">Ixekizumab + MTX (Ns=48)</text>
<text x="81.3" y="811.5" textLength="221.5" lengthAdjust="spacingAndGlyphs">Ixekizumab + any cDMARD (Ns=59)</text>
</g>
</svg>
<div class="cap">
<div class="l" style="top:14.7px">The ixekizumab + any csDMARD subgroup includes patients receiving MTX.</div>
<div class="l" style="top:60.3px">Structural progression data were analyzed using linear extrapolation.</div>
<div class="l" style="top:105.7px"><span class="h">Ixekizumab monotherapy Week 52 Nx=23, Week 108 Nx=21; Week 156 Nx=18. Ixekizumab + MTX Week 52</span></div>
<div class="l" style="top:139.4px"><span class="h">Nx=32; Week 108=31; Week 156 Nx=29. Ixekizumab + any csDMARD Week 52 Nx=41; Week 108 Nx=40; Week</span></div>
<div class="l" style="top:173.1px"><span class="h">156 Nx=37.</span></div>
<div class="l" style="top:218.9px"><i>csDMARDs</i>, conventional disease-modifying antirheumatic drug; <i>ES,</i> Bone Erosion Score; <i>MTX</i>, methotrexate; <i>Ns,</i></div>
<div class="l" style="top:252.6px">number of patients in treatment subgroup; <i>Nx=</i>number of patients with non-missing data in each subgroup; <i>PsA</i>,</div>
<div class="l" style="top:286.3px">psoriatic arthritis.</div>
</div>
</body></html>
